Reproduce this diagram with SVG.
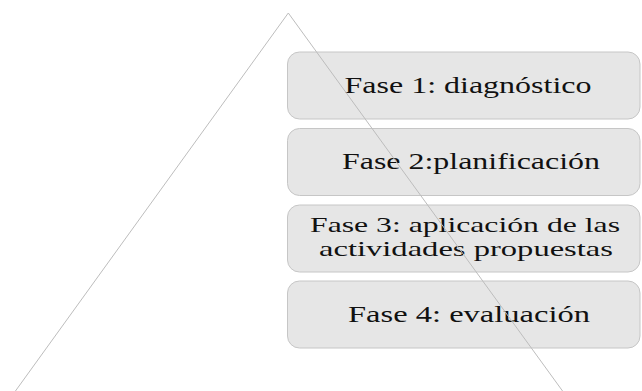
<svg xmlns="http://www.w3.org/2000/svg" width="642" height="391" viewBox="0 0 642 391">
<style>
.box{fill:#e6e6e6;stroke:#c6c6c6;stroke-width:1}
.t{font-family:"Liberation Serif","Times New Roman",serif;font-size:23px;fill:#111111;text-anchor:middle}
.s{font-size:21.5px}
.tri{fill:none;stroke:#bdbdbd;stroke-width:1}
</style>
<rect width="642" height="391" fill="#ffffff"/>
<g id="fase1">
<rect class="box" x="287.5" y="52" width="352.5" height="67" rx="12"/>
<text class="t" x="468" y="92.5" textLength="247" lengthAdjust="spacingAndGlyphs">Fase 1: diagnóstico</text>
</g>
<g id="fase2">
<rect class="box" x="287.5" y="128.5" width="352.5" height="67" rx="12"/>
<text class="t" x="471" y="169" textLength="258" lengthAdjust="spacingAndGlyphs">Fase 2:planificación</text>
</g>
<g id="fase3">
<rect class="box" x="287.5" y="205" width="352.5" height="67" rx="12"/>
<text class="t s" x="465" y="231.5" textLength="310" lengthAdjust="spacingAndGlyphs">Fase 3: aplicación de las</text>
<text class="t s" x="466" y="256" textLength="294" lengthAdjust="spacingAndGlyphs">actividades propuestas</text>
</g>
<g id="fase4">
<rect class="box" x="287.5" y="281" width="352.5" height="67" rx="12"/>
<text class="t" x="469" y="321.5" textLength="242" lengthAdjust="spacingAndGlyphs">Fase 4: evaluación</text>
</g>
<g id="connectors">
<polyline class="tri" points="14,393 288.3,13 564,393"/>
</g>
</svg>
